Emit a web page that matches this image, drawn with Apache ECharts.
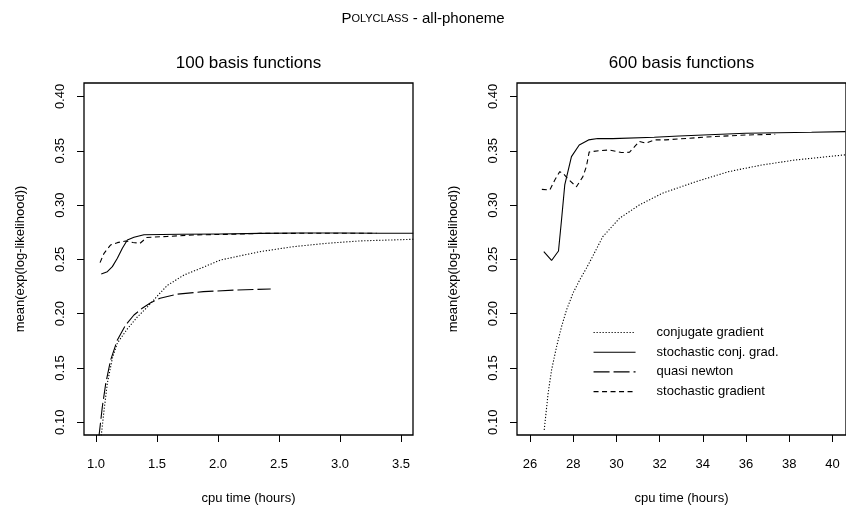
<!DOCTYPE html>
<html>
<head>
<meta charset="utf-8">
<script src="https://cdn.jsdelivr.net/npm/echarts@6/dist/echarts.min.js"></script>
<style>
  html, body { margin: 0; padding: 0; background: #fff; }
  #chart { width: 846px; height: 512px; }
</style>
</head>
<body>
<div id="chart"></div>
<script>
// series names (legend order)
const seriesNames = ["conjugate gradient", "stochastic conj. grad.", "quasi newton", "stochastic gradient"];

// tick labels
const xTicksLeft = [1.0, 1.5, 2.0, 2.5, 3.0, 3.5];
const xTicksRight = [26, 28, 30, 32, 34, 36, 38, 40];
const yTicks = [0.10, 0.15, 0.20, 0.25, 0.30, 0.35, 0.40];

// 100 basis functions: [cpu hours, mean(exp(log-likelihood))]
const cgLeft = [[1.04, 0.085], [1.066, 0.111], [1.093, 0.136], [1.134, 0.159], [1.175, 0.173], [1.257, 0.186],
  [1.339, 0.197], [1.42, 0.206], [1.5, 0.216], [1.584, 0.226], [1.721, 0.2356], [1.858, 0.2418],
  [2.022, 0.2495], [2.344, 0.2571], [2.617, 0.2617], [2.89, 0.2648], [3.164, 0.267], [3.6, 0.2685]];
const scgLeft = [[1.043, 0.2366], [1.093, 0.2387], [1.134, 0.2433], [1.175, 0.251], [1.216, 0.2602],
  [1.257, 0.2679], [1.311, 0.2704], [1.393, 0.2727], [1.689, 0.2731], [2.016, 0.2734], [2.344, 0.2739],
  [2.672, 0.2743], [3.0, 0.2743], [3.328, 0.274], [3.6, 0.274]];
const qnLeft = [[1.022, 0.085], [1.052, 0.1144], [1.08, 0.1359], [1.12, 0.1574], [1.175, 0.1758],
  [1.243, 0.1896], [1.311, 0.1988], [1.379, 0.205], [1.448, 0.2101], [1.525, 0.2142], [1.661, 0.2179],
  [1.88, 0.2203], [2.153, 0.2218], [2.432, 0.2227]];
const sgLeft = [[1.033, 0.247], [1.066, 0.2556], [1.12, 0.2633], [1.175, 0.2654], [1.243, 0.2669],
  [1.303, 0.2656], [1.361, 0.2648], [1.416, 0.2702], [1.582, 0.2711], [1.795, 0.2725], [2.098, 0.2731],
  [2.344, 0.2739], [2.672, 0.274], [3.0, 0.2741], [3.3, 0.2741]];

// 600 basis functions
const cgRight = [[26.66, 0.0929], [26.84, 0.1267], [27.0, 0.1482], [27.23, 0.1696], [27.46, 0.188],
  [27.69, 0.2034], [27.99, 0.2188], [28.3, 0.231], [28.61, 0.2418], [28.84, 0.2504], [29.37, 0.2709],
  [30.14, 0.2878], [31.06, 0.3001], [32.13, 0.3109], [33.67, 0.3215], [35.2, 0.3308], [36.73, 0.3369],
  [38.27, 0.3415], [40.6, 0.3463]];
const scgRight = [[26.64, 0.2571], [27.0, 0.249], [27.32, 0.2577], [27.46, 0.2863], [27.61, 0.3185],
  [27.92, 0.3446], [28.28, 0.3553], [28.71, 0.36], [29.14, 0.3613], [29.83, 0.3612], [31.75, 0.3624],
  [32.9, 0.3636], [35.97, 0.3661], [39.03, 0.367], [40.6, 0.3676]];
const sgRight = [[26.55, 0.3145], [26.92, 0.3139], [27.15, 0.3231], [27.38, 0.3308], [27.56, 0.3286],
  [27.76, 0.324], [28.15, 0.3169], [28.45, 0.3262], [28.61, 0.3354], [28.74, 0.3489], [29.22, 0.3501],
  [29.68, 0.3507], [30.23, 0.3484], [30.6, 0.3486], [30.83, 0.3535], [31.06, 0.3586], [31.37, 0.3569],
  [31.75, 0.36], [32.29, 0.36], [32.9, 0.3609], [34.43, 0.363], [35.97, 0.3645], [37.35, 0.3652]];

const FONT = "Liberation Sans";
const dashes = {
  "conjugate gradient": [1.2, 1.8],
  "stochastic conj. grad.": "solid",
  "quasi newton": [16, 4],
  "stochastic gradient": [5, 3.5]
};

function xAxisFor(idx, min, max, ticks, digits) {
  return {
    type: "value", gridIndex: idx, min: min, max: max,
    axisLine: { show: false }, splitLine: { show: false },
    axisTick: { show: true, inside: false, length: 7, customValues: ticks, lineStyle: { color: "#000", width: 1 } },
    axisLabel: {
      customValues: ticks, margin: 23, color: "#000", fontSize: 13, fontFamily: FONT,
      formatter: (v) => v.toFixed(digits)
    },
    name: "cpu time (hours)", nameLocation: "middle", nameGap: 57,
    nameTextStyle: { color: "#000", fontSize: 13, fontFamily: FONT }
  };
}

function yAxisFor(idx) {
  return {
    type: "value", gridIndex: idx, min: 0.0883, max: 0.4124,
    axisLine: { show: false }, splitLine: { show: false },
    axisTick: { show: true, inside: false, length: 7, customValues: yTicks, lineStyle: { color: "#000", width: 1 } },
    axisLabel: {
      customValues: yTicks, rotate: 90, margin: 17, color: "#000", fontSize: 13, fontFamily: FONT,
      formatter: (v) => v.toFixed(2)
    },
    name: "mean(exp(log-likelihood))", nameLocation: "middle", nameGap: 57,
    nameTextStyle: { color: "#000", fontSize: 13, fontFamily: FONT }
  };
}

function line(name, data, idx) {
  return {
    type: "line", name: name, data: data, xAxisIndex: idx, yAxisIndex: idx,
    symbol: "none", showSymbol: false, silent: true,
    lineStyle: { color: "#000", width: 1.1, type: dashes[name] },
    itemStyle: { color: "#000" }
  };
}

var chart = echarts.init(document.getElementById("chart"), null, { renderer: "canvas" });
chart.setOption({
  animation: false,
  backgroundColor: "#fff",
  title: [
    {
      text: "{a|P}{b|OLYCLASS}{a| - all-phoneme}",
      left: 423, top: 11, textAlign: "center", padding: 0,
      textStyle: {
        fontWeight: "normal",
        rich: {
          a: { fontSize: 15, fontWeight: "normal", fontFamily: FONT, color: "#000" },
          b: { fontSize: 11, fontWeight: "normal", fontFamily: FONT, color: "#000" }
        }
      }
    },
    {
      text: "100 basis functions", left: 248.5, top: 55, textAlign: "center", padding: 0,
      textStyle: { fontSize: 17, fontWeight: "normal", fontFamily: FONT, color: "#000" }
    },
    {
      text: "600 basis functions", left: 681.5, top: 55, textAlign: "center", padding: 0,
      textStyle: { fontSize: 17, fontWeight: "normal", fontFamily: FONT, color: "#000" }
    }
  ],
  grid: [
    { left: 84, top: 83, width: 329, height: 352, show: true, borderColor: "#000", borderWidth: 1.3, backgroundColor: "transparent" },
    { left: 517, top: 83, width: 331, height: 352, show: true, borderColor: "#000", borderWidth: 1.3, backgroundColor: "transparent" }
  ],
  xAxis: [
    xAxisFor(0, 0.9016, 3.598, xTicksLeft, 1),
    xAxisFor(1, 25.4, 40.625, xTicksRight, 0)
  ],
  yAxis: [yAxisFor(0), yAxisFor(1)],
  legend: {
    data: seriesNames, orient: "vertical", left: 593, top: 326,
    itemWidth: 42, itemHeight: 14, itemGap: 6.7, padding: 0,
    selectedMode: false,
    itemStyle: { opacity: 0 },
    lineStyle: { width: 1.1 },
    formatter: (name) => "{t|" + name + "}",
    textStyle: {
      color: "#000", fontSize: 13, fontFamily: FONT,
      rich: { t: { padding: [0, 0, 0, 16], fontSize: 13, fontFamily: FONT, color: "#000" } }
    }
  },
  series: [
    line(seriesNames[0], cgLeft, 0),
    line(seriesNames[1], scgLeft, 0),
    line(seriesNames[2], qnLeft, 0),
    line(seriesNames[3], sgLeft, 0),
    line(seriesNames[0], cgRight, 1),
    line(seriesNames[1], scgRight, 1),
    line(seriesNames[3], sgRight, 1)
  ]
});
</script>
</body>
</html>
